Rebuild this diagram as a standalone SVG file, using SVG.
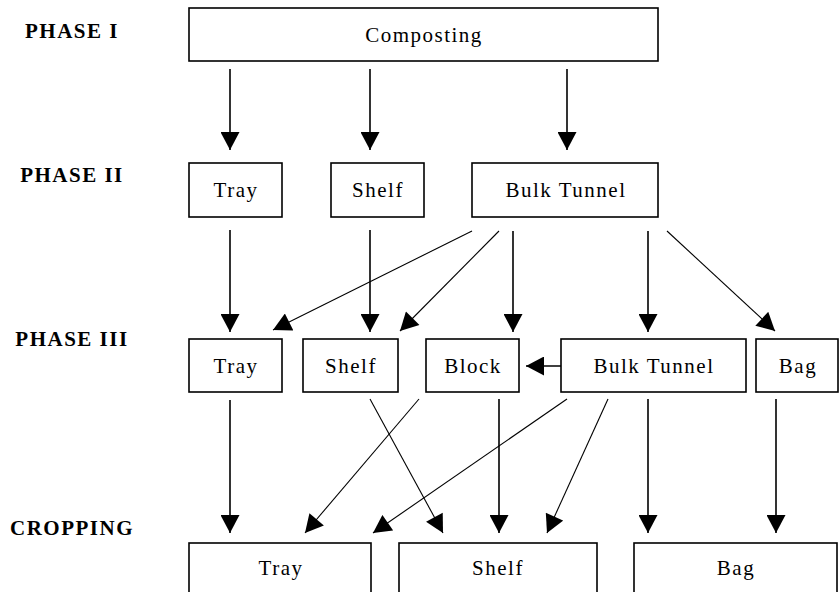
<svg xmlns="http://www.w3.org/2000/svg" width="839" height="592" viewBox="0 0 839 592">
  <style>
    .box { fill: #fff; stroke: #000; stroke-width: 1.6; }
    .lbl { font-family: "Liberation Serif", "Times New Roman", serif; font-size: 21px; letter-spacing: 1.5px; text-anchor: middle; fill: #000; }
    .phase { font-family: "Liberation Serif", "Times New Roman", serif; font-size: 21px; font-weight: bold; letter-spacing: 1.5px; text-anchor: middle; fill: #000; }
    .v { stroke: #000; stroke-width: 1.6; fill: none; marker-end: url(#head); }
    .d { stroke: #000; stroke-width: 1.1; fill: none; marker-end: url(#head); }
  </style>
  <defs>
    <marker id="head" markerUnits="userSpaceOnUse" markerWidth="19" markerHeight="19" viewBox="0 0 18 19" refX="18" refY="9.5" orient="auto">
      <path d="M0,0 L18,9.5 L0,19 z" fill="#000"/>
    </marker>
  </defs>

  <!-- stage labels -->
  <g id="labels">
    <text class="phase" x="72" y="38">PHASE I</text>
    <text class="phase" x="72" y="182">PHASE II</text>
    <text class="phase" x="72" y="346">PHASE III</text>
    <text class="phase" x="72" y="535">CROPPING</text>
  </g>

  <!-- phase I -->
  <g id="composting">
    <rect class="box" x="189" y="8" width="469" height="53"/>
    <text class="lbl" x="424" y="42">Composting</text>
  </g>

  <!-- phase II -->
  <g id="p2-tray">
    <rect class="box" x="189" y="163" width="93" height="54"/>
    <text class="lbl" x="236" y="197">Tray</text>
  </g>
  <g id="p2-shelf">
    <rect class="box" x="331" y="163" width="93" height="54"/>
    <text class="lbl" x="378" y="197">Shelf</text>
  </g>
  <g id="p2-bulk">
    <rect class="box" x="472" y="163" width="186" height="54"/>
    <text class="lbl" x="566" y="197">Bulk Tunnel</text>
  </g>

  <!-- phase III -->
  <g id="p3-tray">
    <rect class="box" x="189" y="339" width="93" height="53"/>
    <text class="lbl" x="236" y="373">Tray</text>
  </g>
  <g id="p3-shelf">
    <rect class="box" x="303" y="339" width="95" height="53"/>
    <text class="lbl" x="351" y="373">Shelf</text>
  </g>
  <g id="p3-block">
    <rect class="box" x="426" y="339" width="93" height="53"/>
    <text class="lbl" x="473" y="373">Block</text>
  </g>
  <g id="p3-bulk">
    <rect class="box" x="561" y="339" width="185" height="53"/>
    <text class="lbl" x="654" y="373">Bulk Tunnel</text>
  </g>
  <g id="p3-bag">
    <rect class="box" x="756" y="339" width="82" height="53"/>
    <text class="lbl" x="798" y="373">Bag</text>
  </g>

  <!-- cropping -->
  <g id="c-tray">
    <rect class="box" x="189" y="543" width="182" height="60"/>
    <text class="lbl" x="281" y="575">Tray</text>
  </g>
  <g id="c-shelf">
    <rect class="box" x="399" y="543" width="198" height="60"/>
    <text class="lbl" x="498" y="575">Shelf</text>
  </g>
  <g id="c-bag">
    <rect class="box" x="634" y="543" width="203" height="60"/>
    <text class="lbl" x="736" y="575">Bag</text>
  </g>

  <!-- connectors -->
  <g id="connectors">
    <!-- phase I to phase II -->
    <line class="v" x1="230" y1="69" x2="230" y2="150"/>
    <line class="v" x1="370" y1="69" x2="370" y2="150"/>
    <line class="v" x1="567" y1="69" x2="567" y2="150"/>

    <!-- phase II to phase III -->
    <line class="v" x1="230" y1="230" x2="230" y2="332"/>
    <line class="v" x1="370" y1="230" x2="370" y2="332"/>
    <line class="d" x1="472" y1="231" x2="273" y2="330"/>
    <line class="d" x1="499" y1="231" x2="400" y2="331"/>
    <line class="v" x1="513" y1="231" x2="513" y2="332"/>
    <line class="v" x1="648" y1="231" x2="648" y2="332"/>
    <line class="d" x1="667" y1="231" x2="775" y2="331"/>

    <!-- bulk tunnel to block -->
    <line class="v" x1="561" y1="366" x2="526" y2="366"/>

    <!-- phase III to cropping -->
    <line class="v" x1="230" y1="400" x2="230" y2="533"/>
    <line class="d" x1="370" y1="399" x2="443" y2="533"/>
    <line class="d" x1="419" y1="399" x2="305" y2="533"/>
    <line class="v" x1="499" y1="399" x2="499" y2="533"/>
    <line class="d" x1="567" y1="399" x2="373" y2="533"/>
    <line class="d" x1="608" y1="399" x2="547" y2="533"/>
    <line class="v" x1="648" y1="399" x2="648" y2="533"/>
    <line class="v" x1="776" y1="399" x2="776" y2="533"/>
  </g>
</svg>
